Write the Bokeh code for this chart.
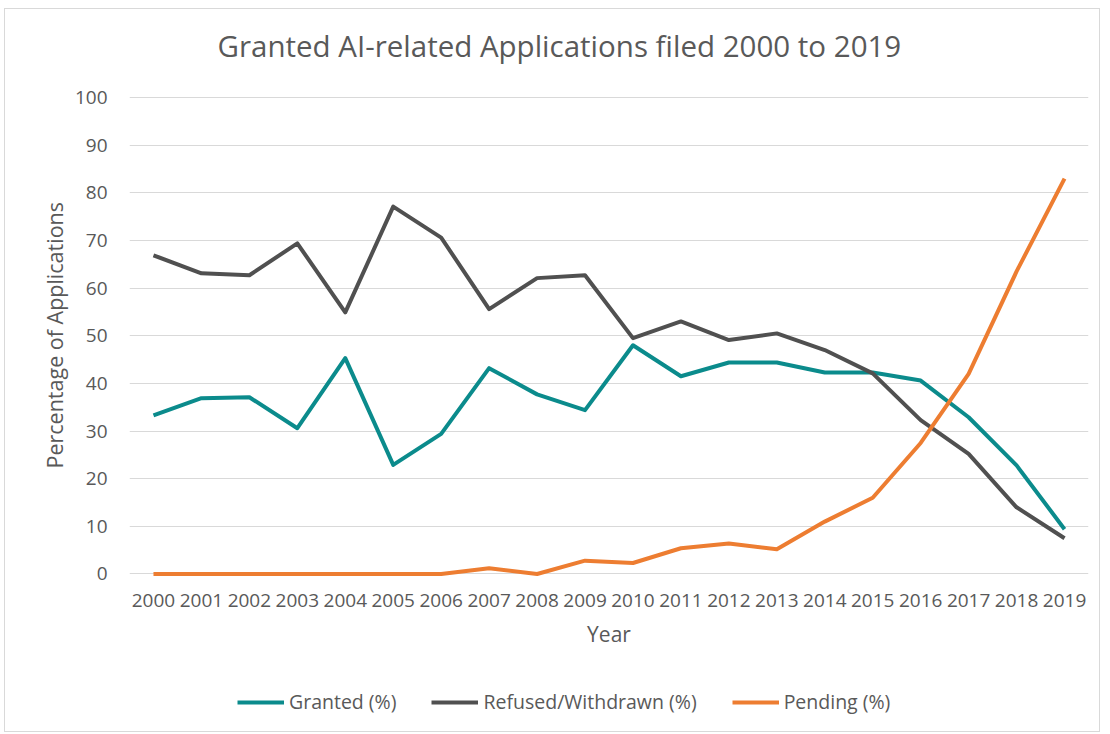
from bokeh.plotting import figure
from bokeh.models import Legend, LegendItem, FixedTicker, Title
from bokeh.embed import file_html
from bokeh.resources import INLINE

years = [str(y) for y in range(2000, 2020)]
granted = [33.3, 36.9, 37.1, 30.6, 45.3, 22.9, 29.4, 43.2, 37.7, 34.4,
           48.0, 41.5, 44.4, 44.4, 42.3, 42.3, 40.6, 32.9, 22.8, 9.4]
refused = [66.9, 63.1, 62.7, 69.4, 54.9, 77.1, 70.6, 55.6, 62.1, 62.7,
           49.5, 53.0, 49.1, 50.5, 47.0, 42.1, 32.3, 25.2, 14.0, 7.5]
pending = [0, 0, 0, 0, 0, 0, 0, 1.2, 0, 2.8,
           2.3, 5.4, 6.4, 5.2, 11.0, 16.0, 27.5, 42.0, 63.5, 83.0]
y_ticks = list(range(0, 101, 10))

FONT = "Open Sans"
TXT = "#595959"

# frame extends below the 0 line so the x axis (fixed at 0) and the legend sit inside it
p = figure(width=1096, height=724, x_range=years, y_range=(-31.8, 104.0),
           output_backend="svg", toolbar_location=None,
           min_border_left=124, min_border_right=13,
           min_border_top=67, min_border_bottom=8)
p.styles = {"border": "1px solid #d9d9d9", "margin-left": "4px", "margin-top": "8px"}

t = Title(text="Granted AI-related Applications filed 2000 to 2019",
          text_font=FONT, text_font_size="29.5px", text_font_style="normal",
          text_color=TXT, align="left", offset=88, standoff=26)
p.add_layout(t, "above")

p.outline_line_color = None
p.background_fill_color = "white"
p.border_fill_color = "white"

p.xgrid.grid_line_color = None
p.ygrid.grid_line_color = "#d9d9d9"
p.ygrid.grid_line_width = 1

for ax in (p.xaxis[0], p.yaxis[0]):
    ax.axis_line_color = None
    ax.major_tick_line_color = None
    ax.minor_tick_line_color = None
    ax.major_label_text_font = FONT
    ax.major_label_text_font_size = "19px"
    ax.major_label_text_color = TXT
    ax.axis_label_text_font = FONT
    ax.axis_label_text_font_size = "21px"
    ax.axis_label_text_font_style = "normal"
    ax.axis_label_text_color = TXT

p.yaxis.ticker = FixedTicker(ticks=y_ticks)
p.yaxis.major_label_standoff = 16
p.xaxis.fixed_location = 0
p.xaxis.axis_label = "Year"
p.xaxis.major_label_standoff = 14
p.xaxis.axis_label_standoff = 10

# y axis title, positioned along the 0-100 part of the frame
yt = Title(text="Percentage of Applications", text_font=FONT,
           text_font_size="21.5px", text_font_style="normal", text_color=TXT,
           align="left", offset=257, standoff=6)
p.add_layout(yt, "left")

r1 = p.line(years, granted, line_color="#0B8B8C", line_width=4, line_join="round")
r2 = p.line(years, refused, line_color="#505050", line_width=4, line_join="round")
r3 = p.line(years, pending, line_color="#ED7D31", line_width=4, line_join="round")

legend = Legend(items=[LegendItem(label="Granted (%)", renderers=[r1]),
                       LegendItem(label="Refused/Withdrawn (%)", renderers=[r2]),
                       LegendItem(label="Pending (%)", renderers=[r3])],
                orientation="horizontal", location=(108, 10),
                glyph_width=47, glyph_height=24, label_height=24,
                label_standoff=5, spacing=35, padding=0, margin=0,
                border_line_color=None, background_fill_alpha=0,
                label_text_font=FONT, label_text_font_size="19.5px",
                label_text_color=TXT)
p.add_layout(legend, "center")

open("out.html", "w").write(file_html(p, INLINE))
